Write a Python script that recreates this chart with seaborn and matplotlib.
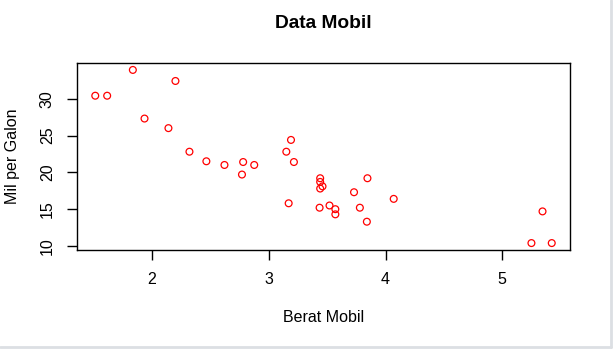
import matplotlib
matplotlib.use("Agg")
import matplotlib.pyplot as plt
import seaborn as sns
import pandas as pd
from matplotlib.lines import Line2D

# mtcars: berat (wt) dan mpg
berat = [2.620, 2.875, 2.320, 3.215, 3.440, 3.460, 3.570, 3.190, 3.150, 3.440,
         3.440, 4.070, 3.730, 3.780, 5.250, 5.424, 5.345, 2.200, 1.615, 1.835,
         2.465, 3.520, 3.435, 3.840, 3.845, 1.935, 2.140, 1.513, 3.170, 2.770,
         3.570, 2.780]
mpg = [21.0, 21.0, 22.8, 21.4, 18.7, 18.1, 14.3, 24.4, 22.8, 19.2,
       17.8, 16.4, 17.3, 15.2, 10.4, 10.4, 14.7, 32.4, 30.4, 33.9,
       21.5, 15.5, 15.2, 13.3, 19.2, 27.3, 26.0, 30.4, 15.8, 19.7,
       15.0, 21.4]
x_ticks = [2, 3, 4, 5]
y_ticks = [10, 15, 20, 25, 30]

df = pd.DataFrame({"wt": berat, "mpg": mpg})

sns.set_style("white")
plt.rcParams['font.family'] = ['Liberation Sans', 'DejaVu Sans']
plt.rcParams['text.color'] = 'black'
plt.rcParams['xtick.color'] = 'black'
plt.rcParams['ytick.color'] = 'black'
plt.rcParams['axes.labelcolor'] = 'black'

fig = plt.figure(figsize=(6.14, 3.51), dpi=100)
ax = fig.add_axes([77/614, 1 - 250/351, (570 - 77)/614, (250 - 63)/351])

sns.scatterplot(data=df, x="wt", y="mpg", ax=ax, color="red",
                facecolor="none", edgecolor="red", s=24, linewidth=0.9, marker="o")

# R style ranges (4% padding)
xr = max(berat) - min(berat)
yr = max(mpg) - min(mpg)
ax.set_xlim(min(berat) - 0.04*xr, max(berat) + 0.04*xr)
ax.set_ylim(min(mpg) - 0.04*yr, max(mpg) + 0.04*yr)

ax.set_xticks(x_ticks)
ax.set_yticks(y_ticks)
ax.set_xticklabels([str(t) for t in x_ticks])
ax.set_yticklabels([str(t) for t in y_ticks], rotation=90, va="center")
ax.tick_params(axis="both", direction="out", length=7, width=1, labelsize=11.5,
               color="black", labelcolor="black", pad=9, bottom=True, left=True)

for sp in ax.spines.values():
    sp.set_visible(True)
    sp.set_color("black")
    sp.set_linewidth(1)

ax.set_xlabel("")
ax.set_ylabel("")
fig.text(323.5/614, 1 - 23/351, "Data Mobil", ha="center", va="center",
         fontsize=13.8, fontweight="bold", color="black")
fig.text(323.5/614, 1 - 318/351, "Berat Mobil", ha="center", va="center",
         fontsize=11.5, color="black")
fig.text(13/614, 1 - 156/351, "Mil per Galon", ha="center", va="center",
         rotation=90, fontsize=11.5, color="black")

# light grey frame edge of screenshot
fig.add_artist(Line2D([611/614, 611/614], [1 - 347/351, 1], transform=fig.transFigure,
                      color="#dcdfe3", linewidth=2))
fig.add_artist(Line2D([0, 611/614], [1 - 347/351, 1 - 347/351], transform=fig.transFigure,
                      color="#dcdfe3", linewidth=2))

fig.savefig("out.png", dpi=100)
